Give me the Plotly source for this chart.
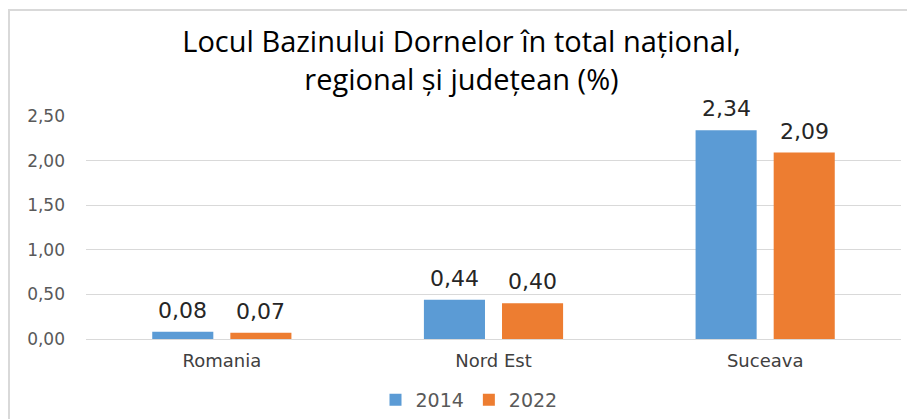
import plotly.graph_objects as go

categories = ["Romania", "Nord Est", "Suceava"]
values_2014 = [0.08, 0.44, 2.34]
values_2022 = [0.07, 0.40, 2.09]
series_names = ["2014", "2022"]
tick_vals = [0, 0.5, 1.0, 1.5, 2.0, 2.5]
title_text = "Locul Bazinului Dornelor în total național,<br>regional și județean (%)"

def fmt(v):
    return f"{v:.2f}".replace(".", ",")

# page offset from default body margin
OFF = 8
W, H = 907, 411
# desired page positions of plot area
PL, PR, PT, PB = 86, 901, 116, 339
L, R, T, B = PL - OFF, W - (PR - OFF), PT - OFF, H - (PB - OFF)
pw = PR - PL
ph = PB - PT

BARGAP = 0.425
GROUPGAP = 0.218
cat_px = pw / len(categories)
half_slot = cat_px * (1 - BARGAP) / 4  # pixel offset of each bar center from category center

def px_to_paper_x(px):
    return (px - PL) / pw

def px_to_paper_y(py):
    return (PB - py) / ph

fig = go.Figure()
annotations = []
for i, (name, vals, col) in enumerate([(series_names[0], values_2014, "#5B9BD5"),
                                       (series_names[1], values_2022, "#ED7D31")]):
    fig.add_trace(go.Bar(
        x=categories, y=vals, name=name,
        marker=dict(color=col, line=dict(width=0)),
    ))
    shift = -half_slot if i == 0 else half_slot
    for c, v in zip(categories, vals):
        annotations.append(dict(
            x=c, y=v, xref="x", yref="y", text=fmt(v), showarrow=False,
            xanchor="center", yanchor="bottom", xshift=shift, yshift=7,
            font=dict(family="DejaVu Sans", size=22, color="#262626"),
        ))

fig.update_layout(
    width=W, height=H,
    margin=dict(l=L, r=R, t=T, b=B, autoexpand=False),
    paper_bgcolor="white", plot_bgcolor="white",
    separators=",.",
    barmode="group", bargap=BARGAP, bargroupgap=GROUPGAP,
    title=dict(text=title_text,
               x=0.5, xanchor="center", y=1 - (52 - OFF) / H, yanchor="middle",
               font=dict(family="Open Sans, sans-serif", size=29, color="#000000")),
    showlegend=True,
    legend=dict(orientation="h", x=px_to_paper_x(469), xanchor="center",
                y=px_to_paper_y(400), yanchor="middle",
                font=dict(family="DejaVu Sans", size=19, color="#595959"),
                itemwidth=30, traceorder="normal"),
    xaxis=dict(showline=False, ticks="", automargin=False, ticklabelstandoff=9,
               tickfont=dict(family="DejaVu Sans", size=18, color="#404040")),
    yaxis=dict(range=[0, 2.5], tickvals=tick_vals, tickformat=".2f", automargin=False,
               showgrid=True, gridcolor="#d9d9d9", gridwidth=1,
               zeroline=True, zerolinecolor="#d9d9d9", zerolinewidth=1,
               tickfont=dict(family="DejaVu Sans", size=17, color="#595959"),
               ticklabelstandoff=20),
    annotations=annotations,
    shapes=[dict(type="rect", xref="paper", yref="paper",
                 x0=px_to_paper_x(9), x1=px_to_paper_x(912),
                 y0=px_to_paper_y(440), y1=px_to_paper_y(10),
                 line=dict(color="#d9d9d9", width=2), fillcolor="rgba(0,0,0,0)", layer="below")],
)

fig.write_html("out.html")
